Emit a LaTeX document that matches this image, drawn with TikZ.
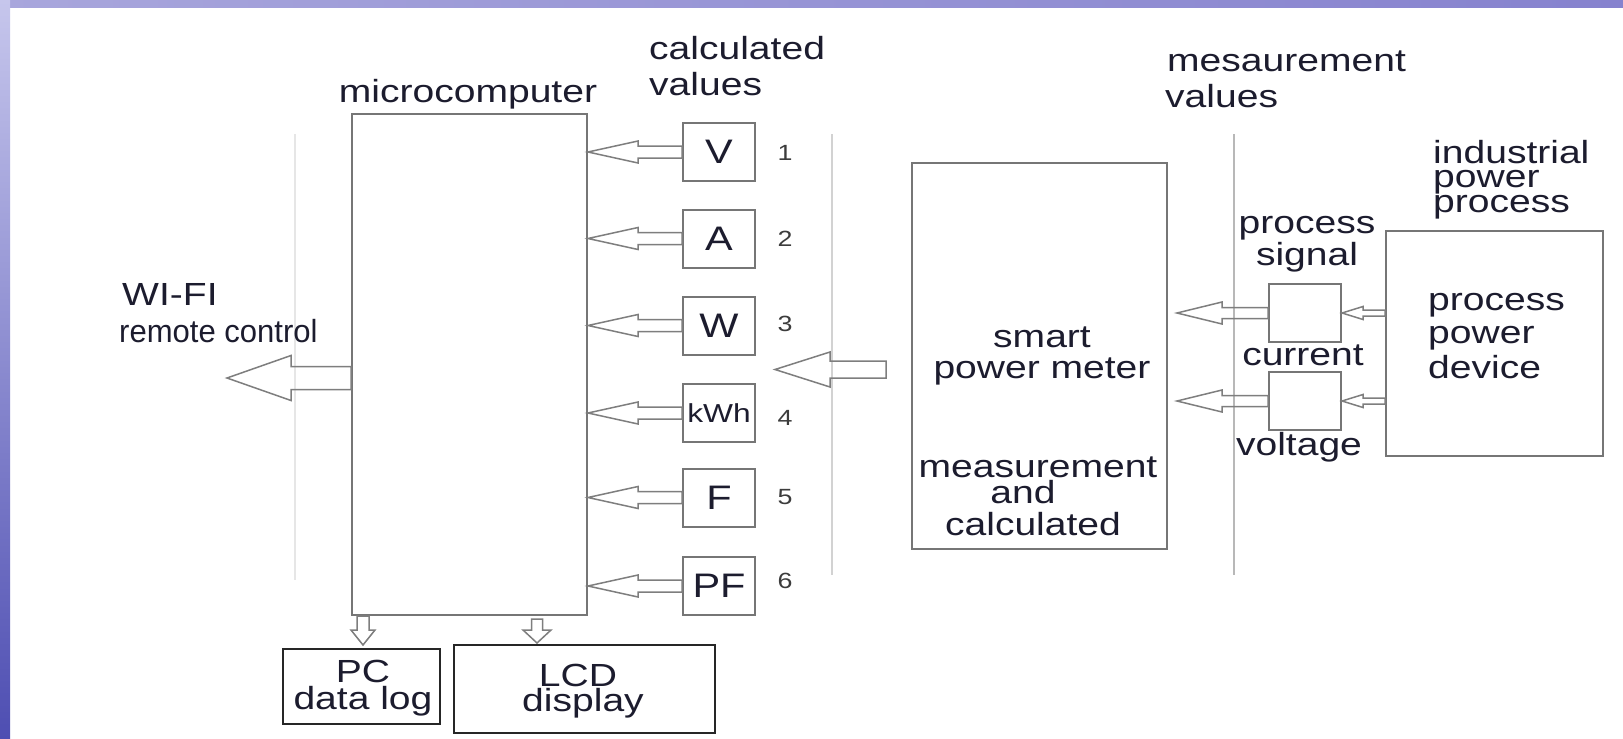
\documentclass[tikz,border=0pt]{standalone}
\usepackage{fontspec}
\setmainfont{Liberation Sans}[FakeStretch=1.22]
\newfontfamily\narrowsans{Liberation Sans}[FakeStretch=0.97]
\usetikzlibrary{calc}
\definecolor{txt}{HTML}{1C1C2E}
\definecolor{edge}{HTML}{767676}
\definecolor{arrc}{HTML}{7E7E7E}
\definecolor{numc}{HTML}{3C3C3C}
\definecolor{guideA}{HTML}{E6E6E6}
\definecolor{guideB}{HTML}{D2D2D2}
\definecolor{guideC}{HTML}{B8B8B8}
\definecolor{bandA}{HTML}{C6C6EC}
\definecolor{bandB}{HTML}{4E4EB2}
\definecolor{bandT}{HTML}{8682CE}
\definecolor{bandTL}{HTML}{A8A6DC}
% left-pointing hollow arrow: #1 tip, #2 tail, #3 head length, #4 head half width, #5 shaft half width
\newcommand\larrow[5]{\draw[arr] let \p1=(#1), \p2=(#2) in (\x1,\y1) -- (\x1+#3pt,\y1+#4pt) -- (\x1+#3pt,\y1+#5pt) -- (\x2,\y1+#5pt) -- (\x2,\y1-#5pt) -- (\x1+#3pt,\y1-#5pt) -- (\x1+#3pt,\y1-#4pt) -- cycle;}
% down-pointing hollow arrow
\newcommand\darrow[5]{\draw[arr] let \p1=(#1), \p2=(#2) in (\x1,\y1) -- (\x1-#4pt,\y1+#3pt) -- (\x1-#5pt,\y1+#3pt) -- (\x1-#5pt,\y2) -- (\x1+#5pt,\y2) -- (\x1+#5pt,\y1+#3pt) -- (\x1+#4pt,\y1+#3pt) -- cycle;}
\tikzset{
  box/.style={draw=edge, line width=2pt, inner sep=0pt},
  blackbox/.style={draw=black!85, line width=2.2pt, inner sep=0pt},
  lbl/.style={font=\fontsize{32}{32}\selectfont, text=txt, inner sep=0pt},
  boxlbl/.style={font=\fontsize{34}{34}\selectfont, text=txt, inner sep=0pt},
  num/.style={font=\fontsize{22}{22}\selectfont, text=numc, inner sep=0pt},
  arr/.style={draw=arrc, line width=1.5pt, line join=miter},
  guide/.style={line width=2.5pt}
}
\begin{document}
\begin{tikzpicture}[x=1pt,y=-1pt]
\useasboundingbox (0,0) rectangle (1623,739);
\fill[white] (0,0) rectangle (1623,739);
% frame bands
\shade[left color=bandTL, right color=bandT] (0,0) rectangle (1623,7);
\shade[top color=bandA, bottom color=bandB] (0,0) rectangle (10,739);

% guide lines
\draw[guide, guideA] (295,134) -- (295,580);
\draw[guide, guideB] (832,134) -- (832,575);
\draw[guide, guideC] (1234,134) -- (1234,575);

% main boxes
\node[box, minimum width=235pt, minimum height=501pt] (mc) at (469.5,364.5) {};
\node[box, minimum width=255pt, minimum height=386pt] (sm) at (1039.5,356) {};
\node[box, minimum width=217pt, minimum height=225pt] (dev) at (1494.5,343.5) {};
\node[box, minimum width=72pt, minimum height=58pt] (cur) at (1305,313) {};
\node[box, minimum width=72pt, minimum height=58pt] (vol) at (1305,401) {};
\node[blackbox, minimum width=157pt, minimum height=75pt] (pc) at (361.5,686.5) {};
\node[blackbox, minimum width=261pt, minimum height=88pt] (lcd) at (584.5,689) {};

% value boxes
\node[box, minimum width=72pt, minimum height=58pt, boxlbl] (V) at (719,152) {V};
\node[box, minimum width=72pt, minimum height=58pt, boxlbl] (A) at (719,238.5) {A};
\node[box, minimum width=72pt, minimum height=58pt, boxlbl] (W) at (719,325.5) {W};
\node[box, minimum width=72pt, minimum height=58pt, font=\fontsize{26}{26}\selectfont, text=txt] (kWh) at (719,413) {kWh};
\node[box, minimum width=72pt, minimum height=58pt, boxlbl] (F) at (719,497.5) {F};
\node[box, minimum width=72pt, minimum height=58pt, boxlbl] (PF) at (719,586) {PF};

% numbers
\node[num] (n1) at (785,153) {1};
\node[num] (n2) at (785,239) {2};
\node[num] (n3) at (785,324) {3};
\node[num] (n4) at (785,418) {4};
\node[num] (n5) at (785,497) {5};
\node[num] (n6) at (785,581) {6};

% arrows value boxes -> microcomputer
\foreach \b in {V,A,W,kWh,F,PF}{
  \larrow{mc.east |- \b.west}{\b.west}{50}{11}{6}
}
% WI-FI arrow
\coordinate (wifiTip) at (227,378);
\larrow{wifiTip}{mc.west |- wifiTip}{64}{22.5}{11.5}
% smart meter arrow
\coordinate (smTip) at (775,369.5);
\coordinate (smTail) at (886,369.5);
\larrow{smTip}{smTail}{55}{17.5}{8.5}
% current / voltage -> smart meter
\coordinate (curTip) at (1177,313);
\coordinate (volTip) at (1177,401);
\larrow{curTip}{cur.west}{45}{11}{5.5}
\larrow{volTip}{vol.west}{45}{11}{5.5}
% device -> current / voltage
\larrow{cur.east}{dev.west |- cur.east}{21}{6.5}{3}
\larrow{vol.east}{dev.west |- vol.east}{21}{6.5}{3}
% down arrows
\coordinate (pcTip) at (363,645);
\coordinate (lcdTip) at (537,643);
\coordinate (lcdTail) at (537,619);
\darrow{pcTip}{mc.south -| pcTip}{15}{12}{6}
\darrow{lcdTip}{lcdTail}{13}{14}{5.5}

% labels
\node[lbl, anchor=base] (tmc) at (468,102) {microcomputer};
\node[lbl, anchor=base west] (tcalc1) at (649,59) {calculated};
\node[lbl, anchor=base west] (tcalc2) at (649,95) {values};
\node[lbl, anchor=base west] (tmes1) at (1167,71) {mesaurement};
\node[lbl, anchor=base west] (tmes2) at (1165,107) {values};
\node[lbl, anchor=base west] (tind1) at (1433,163) {industrial};
\node[lbl, anchor=base west] (tind2) at (1433,187) {power};
\node[lbl, anchor=base west] (tind3) at (1433,212) {process};
\node[lbl, anchor=base] (tps1) at (1307,233) {process};
\node[lbl, anchor=base] (tps2) at (1307,265) {signal};
\node[lbl, anchor=base] (tcur) at (1303,365) {current};
\node[lbl, anchor=base] (tvol) at (1299,455) {voltage};
\node[lbl, anchor=base west] (tdev1) at (1428,310) {process};
\node[lbl, anchor=base west] (tdev2) at (1428,343) {power};
\node[lbl, anchor=base west] (tdev3) at (1428,378) {device};
\node[lbl, anchor=base] (tsm1) at (1042,347) {smart};
\node[lbl, anchor=base] (tsm2) at (1042,378) {power meter};
\node[lbl, anchor=base] (tsm3) at (1038,477) {measurement};
\node[lbl, anchor=base] (tsm4) at (1023,503) {and};
\node[lbl, anchor=base] (tsm5) at (1033,535) {calculated};
\node[lbl, anchor=base west] (twifi1) at (122,305) {WI-FI};
\node[lbl, anchor=base west, font=\fontsize{32}{32}\narrowsans] (twifi2) at (119,342) {remote control};
\node[lbl, anchor=base] (tpc1) at (363,682) {PC};
\node[lbl, anchor=base] (tpc2) at (363,709) {data log};
\node[lbl, anchor=base] (tlcd1) at (578,686) {LCD};
\node[lbl, anchor=base] (tlcd2) at (583,711) {display};
\end{tikzpicture}
\end{document}
